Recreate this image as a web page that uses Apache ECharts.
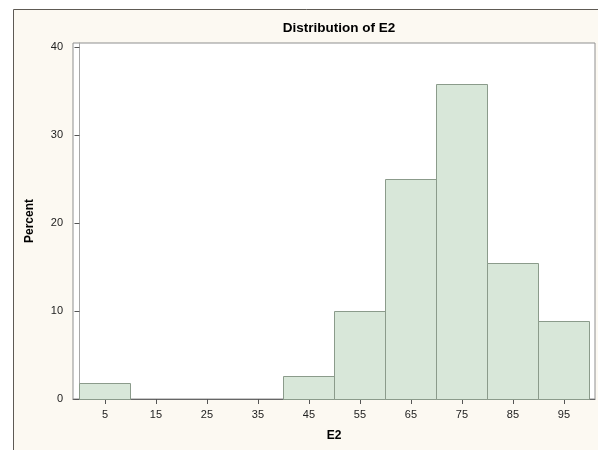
<!DOCTYPE html>
<html>
<head>
<meta charset="utf-8">
<style>
  html, body { margin: 0; padding: 0; background: #ffffff; }
  #chart { width: 598px; height: 450px; }
</style>
<script src="https://cdn.jsdelivr.net/npm/echarts@6/dist/echarts.min.js"></script>
</head>
<body>
<div id="chart"></div>
<script>
// Histogram bins of E2 (lower edge, upper edge) and percent in each bin
var binStart = [0, 10, 20, 30, 40, 50, 60, 70, 80, 90];
var binEnd   = [10, 20, 30, 40, 50, 60, 70, 80, 90, 100];
var percent  = [1.85, 0, 0, 0, 2.6, 10.0, 25.0, 35.8, 15.5, 8.9];
var xTicks   = [5, 15, 25, 35, 45, 55, 65, 75, 85, 95];
var yTicks   = [0, 10, 20, 30, 40];

var bins = binStart.map(function (s, i) { return [s, binEnd[i], percent[i]]; })
                   .filter(function (d) { return d[2] > 0; });

var chart = echarts.init(document.getElementById('chart'), null, { renderer: 'canvas' });
var font = 'Arial, "Liberation Sans", sans-serif';

chart.setOption({
  backgroundColor: '#ffffff',
  animation: false,
  graphic: [{
    type: 'rect',
    z: -10,
    silent: true,
    shape: { x: 13.5, y: 9.5, width: 620, height: 480 },
    style: { fill: '#fcf9f2', stroke: '#5e5a54', lineWidth: 1 }
  }],
  title: {
    text: 'Distribution of E2',
    left: 334,
    textAlign: 'center',
    top: 16,
    textStyle: { fontFamily: font, fontSize: 13.5, fontWeight: 'bold', color: '#000000' }
  },
  grid: {
    left: 73, top: 43, right: 3, bottom: 51,
    show: true,
    backgroundColor: '#ffffff',
    borderColor: '#8f8f8f',
    borderWidth: 1
  },
  xAxis: {
    type: 'value',
    min: -1.27,
    max: 101.08,
    name: 'E2',
    nameLocation: 'middle',
    nameGap: 31,
    nameTextStyle: { fontFamily: font, fontSize: 12, fontWeight: 'bold', color: '#000000' },
    axisLine: { show: true, onZero: false, lineStyle: { color: '#666666', width: 1 } },
    axisTick: { show: true, length: 5, customValues: xTicks, lineStyle: { color: '#555555' } },
    axisLabel: { customValues: xTicks, margin: 10, fontFamily: font, fontSize: 11, color: '#222222' },
    splitLine: { show: false }
  },
  yAxis: {
    type: 'value',
    min: 0,
    max: 40.45,
    name: 'Percent',
    nameLocation: 'middle',
    nameGap: 37,
    nameRotate: 90,
    nameTextStyle: { fontFamily: font, fontSize: 12, fontWeight: 'bold', color: '#000000' },
    axisLine: { show: true, lineStyle: { color: '#a8a8a8', width: 1 } },
    axisTick: { show: true, length: 5, customValues: yTicks, lineStyle: { color: '#555555' } },
    axisLabel: { customValues: yTicks, margin: 10, fontFamily: font, fontSize: 11, color: '#222222' },
    splitLine: { show: false }
  },
  series: [{
    type: 'custom',
    data: bins,
    renderItem: function (params, api) {
      var p0 = api.coord([api.value(0), api.value(2)]);
      var p1 = api.coord([api.value(1), 0]);
      return {
        type: 'rect',
        shape: { x: Math.round(p0[0]) + 0.5, y: Math.round(p0[1]) + 0.5,
                 width: Math.round(p1[0]) - Math.round(p0[0]),
                 height: Math.round(p1[1]) - Math.round(p0[1]) },
        style: { fill: '#d8e7d9', stroke: '#8b9b8b', lineWidth: 1 }
      };
    }
  }]
});
</script>
</body>
</html>
